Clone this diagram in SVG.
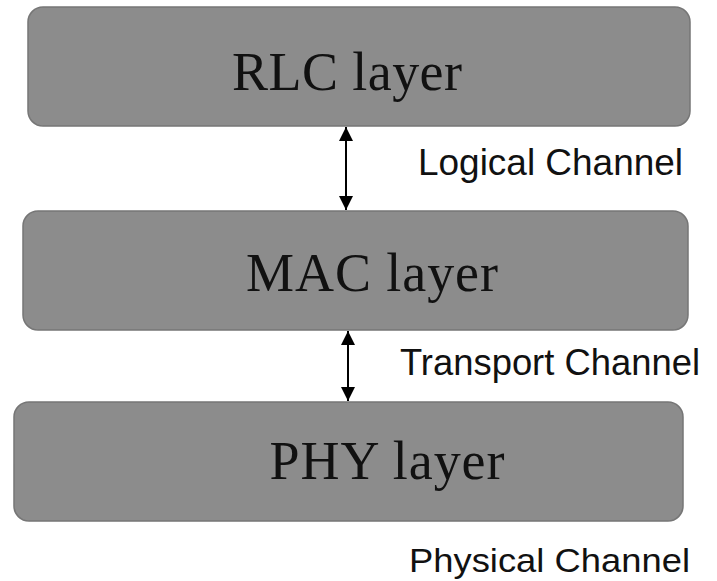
<svg xmlns="http://www.w3.org/2000/svg" width="717" height="581" viewBox="0 0 717 581">
<defs>
<style>
.box{fill:#8c8c8c;stroke:#767676;stroke-width:1.5}
.t{font-family:"Liberation Serif","Times New Roman",serif;font-size:54px;fill:#111;text-anchor:middle}
.l{font-family:"Liberation Sans",Arial,sans-serif;font-size:37px;fill:#111}
.c{stroke:#000;stroke-width:2;fill:none;marker-start:url(#ah);marker-end:url(#ah)}
</style>
<marker id="ah" viewBox="0 0 10 10" refX="10" refY="5" markerWidth="7" markerHeight="7" orient="auto-start-reverse" markerUnits="strokeWidth">
<path d="M0,0L10,5L0,10z" fill="#000"/>
</marker>
</defs>
<rect width="717" height="581" fill="#fff"/>
<g id="rlc"><rect class="box" x="28" y="7" width="662" height="119" rx="15"/><text class="t" x="347" y="90" textLength="230">RLC layer</text></g>
<g id="mac"><rect class="box" x="23" y="211" width="665" height="119" rx="15"/><text class="t" x="372" y="291" textLength="252">MAC layer</text></g>
<g id="phy"><rect class="box" x="14" y="402" width="669" height="119" rx="15"/><text class="t" x="387" y="479" textLength="235">PHY layer</text></g>
<g id="connectors">
<line class="c" x1="346" y1="127" x2="346" y2="210"/>
<line class="c" x1="348" y1="331" x2="348" y2="401"/>
</g>
<g id="labels">
<text class="l" x="418" y="175" textLength="265" lengthAdjust="spacingAndGlyphs">Logical Channel</text>
<text class="l" x="400" y="375" textLength="300" lengthAdjust="spacingAndGlyphs">Transport Channel</text>
<text class="l" x="409" y="572" textLength="281" lengthAdjust="spacingAndGlyphs" style="font-size:34px">Physical Channel</text>
</g>
</svg>
